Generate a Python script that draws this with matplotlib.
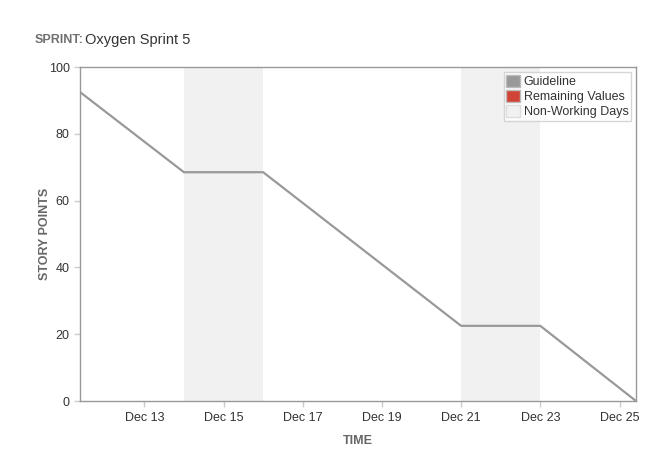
import datetime as dt
import matplotlib
matplotlib.use("Agg")
import matplotlib.pyplot as plt
import matplotlib.dates as mdates
from matplotlib.patches import Patch

# Guideline of the burndown (date, story points)
guide_dates = [dt.datetime(2013, 12, 11, 9), dt.datetime(2013, 12, 14), dt.datetime(2013, 12, 16),
               dt.datetime(2013, 12, 21), dt.datetime(2013, 12, 23), dt.datetime(2013, 12, 25, 10)]
guide_points = [92.5, 68.5, 68.5, 22.5, 22.5, 0]

# Weekends (start, end)
non_working = [(dt.datetime(2013, 12, 14), dt.datetime(2013, 12, 16)),
               (dt.datetime(2013, 12, 21), dt.datetime(2013, 12, 23))]

tick_days = [13, 15, 17, 19, 21, 23, 25]
y_ticks = [0, 20, 40, 60, 80, 100]

plt.rcParams['font.family'] = ['Liberation Sans', 'DejaVu Sans']

fig = plt.figure(figsize=(6.65, 4.71), dpi=100)
ax = fig.add_axes([80 / 665, 70 / 471, 556 / 665, 334 / 471])

for start, end in non_working:
    ax.axvspan(start, end, color='#f1f1f1', lw=0, zorder=0)

ax.plot(guide_dates, guide_points, color='#999999', lw=1.6, zorder=2)

ax.set_xlim(guide_dates[0], guide_dates[-1])
ax.set_ylim(0, 100)
ax.set_yticks(y_ticks)
ax.set_xticks([dt.datetime(2013, 12, d) for d in tick_days])
ax.xaxis.set_major_formatter(mdates.DateFormatter('%b %d'))

for s in ax.spines.values():
    s.set_color('#999999')
    s.set_linewidth(1)
ax.tick_params(colors='#cccccc', labelcolor='#333333', labelsize=9, length=4, width=1)
ax.tick_params(axis='x', pad=4)

ax.set_xlabel('TIME', fontsize=9, fontweight='bold', color='#666666', labelpad=8)
ax.set_ylabel('STORY POINTS', fontsize=9, fontweight='bold', color='#666666')
ax.yaxis.set_label_coords(-0.053, 0.5)

fig.text(35 / 665, 1 - 40 / 471, 'SPRINT:', fontsize=9, fontweight='bold', color='#707070', va='center')
fig.text(85 / 665, 1 - 40 / 471, 'Oxygen Sprint 5', fontsize=10.5, color='#333333', va='center')

handles = [Patch(facecolor='#999999', edgecolor='#bbbbbb', label='Guideline'),
           Patch(facecolor='#d04437', edgecolor='#bbbbbb', label='Remaining Values'),
           Patch(facecolor='#f1f1f1', edgecolor='#dddddd', label='Non-Working Days')]
leg = ax.legend(handles=handles, loc='upper right', fontsize=9, frameon=True, fancybox=False,
                handlelength=1.1, handleheight=1.1, handletextpad=0.3, borderpad=0.2,
                labelspacing=0.15, borderaxespad=0.4)
leg.get_frame().set_edgecolor('#cccccc')
leg.get_frame().set_linewidth(1)
for t in leg.get_texts():
    t.set_color('#333333')

fig.savefig('out.png', dpi=100)
